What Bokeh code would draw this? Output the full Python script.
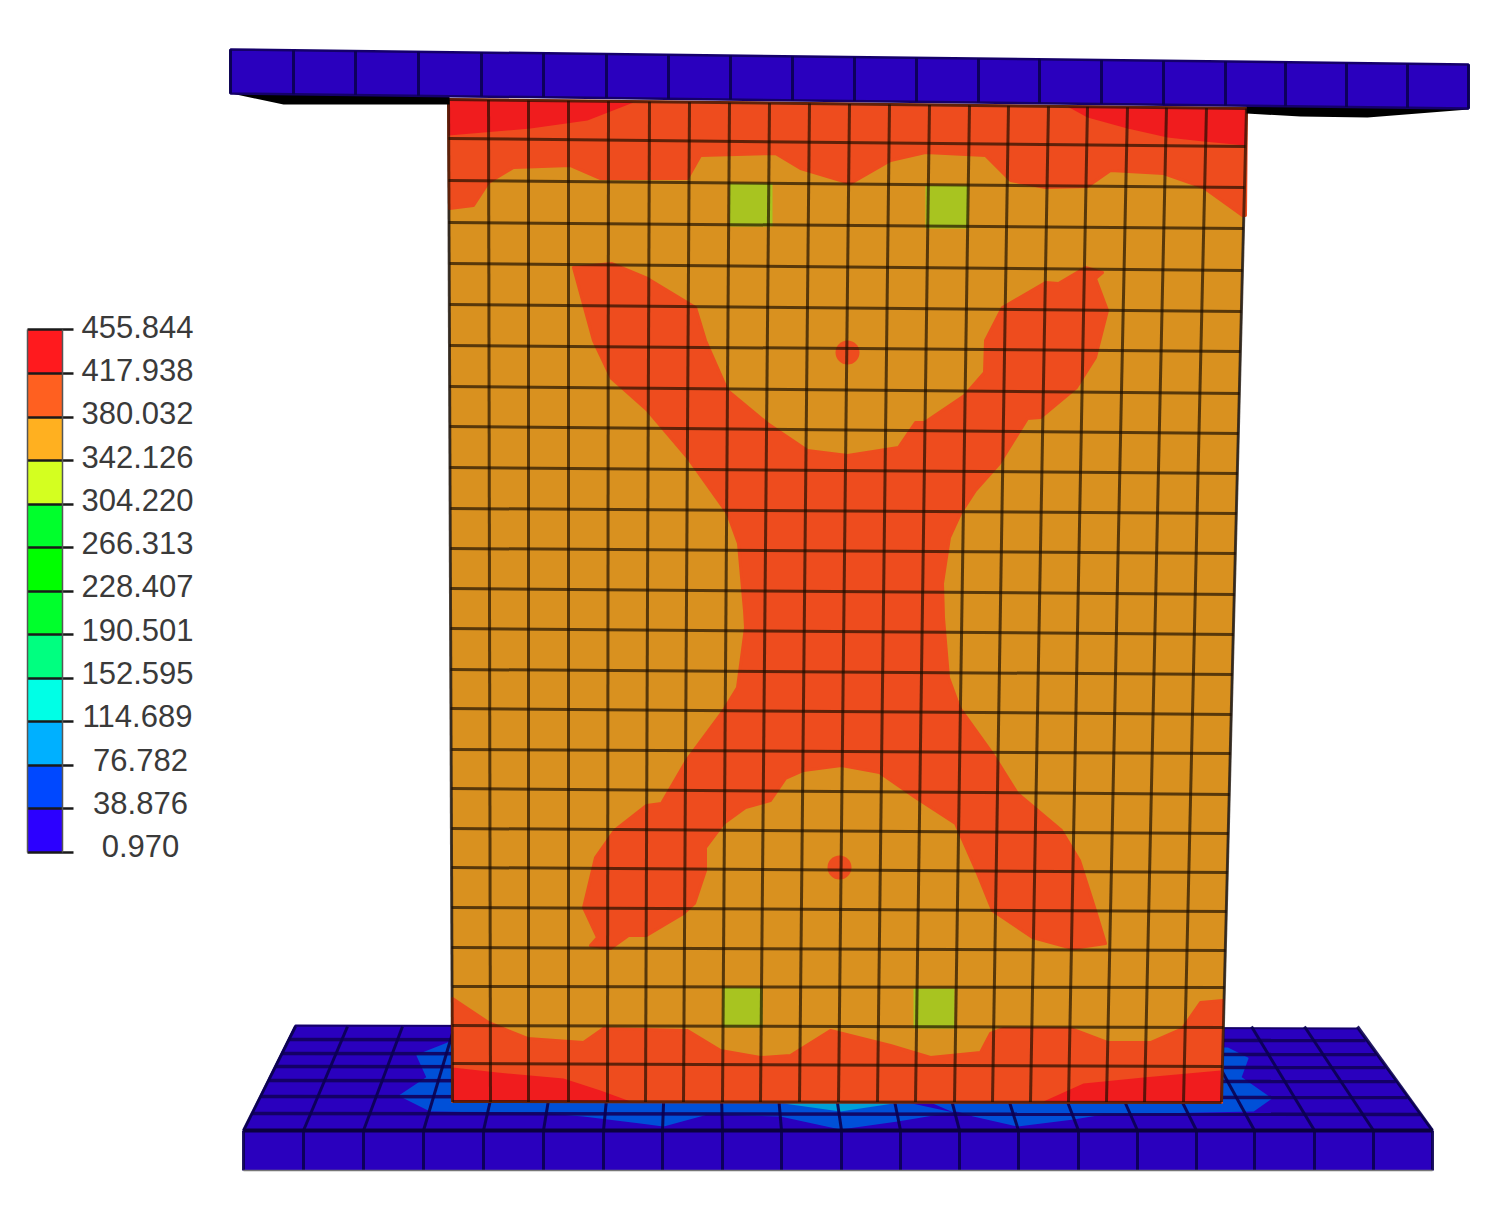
from bokeh.plotting import figure
from bokeh.embed import file_html
from bokeh.resources import INLINE
from bokeh.models import Range1d
from bokeh.core.properties import value

# ---------- legend ----------
legend_labels = ["455.844","417.938","380.032","342.126","304.220","266.313","228.407",
                 "190.501","152.595","114.689","76.782","38.876","0.970"]
legend_ticks = [329,373,417,460,504,547,591,634,678,721,765,808,852]
legend_label_y = [326,369,412,456,499,542,585,629,672,715,759,802,845]
legend_label_x = [137,137,137,137,137,137,137,137,137,137,140,140,140]
legend_colors = ["#FF1A1E","#FF6020","#FFB020","#D4FF20","#00FF2C","#00FF00","#00FF2C",
                 "#00FF80","#00FFE6","#00B0FF","#0048FF","#2C00FF"]

# ---------- colours of the model ----------
plate_color = "#2A00BE"
orange = "#D9911F"
redorange = "#EE4C1E"
red = "#F01C1E"
olive = "#A8C420"
blue = "#0050D8"
sky = "#00A0D8"

# ---------- top plate ----------
top_plate_x = [230,1468,1468,230]
top_plate_y = [49,64,108,93]
top_shadow_l_x = [231,283,449,449]
top_shadow_l_y = [93,104,104,96]
top_shadow_r_x = [1246,1300,1367,1468,1468,1246]
top_shadow_r_y = [113,116,117,109,106,104]
top_plate_lines = [230,293,355,418,481,543,606,668,730,792,854,916,978,1039,1101,1163,1225,1285,1346,1407,1468]

# ---------- bottom plate ----------
base_top_x = [295,1357,1432,243]
base_top_y = [1025,1028,1130,1130]
base_front_x = [243,1432,1432,243]
base_front_y = [1130,1130,1170,1170]
base_front_lines = [243,303,363,423,483,543,603,662,722,781,841,900,959,1018,1078,1137,1196,1254,1314,1373,1432]
base_back_lines = [295,347,402,454,507,560,613,666,719,772,826,879,932,985,1038,1091,1144,1197,1251,1304,1357]
base_row_y = [1039,1053,1066,1080,1096,1113]

blue_x = [450,417,427,400,430,547,583,640,663,707,780,840,897,957,973,1017,1073,1103,1253,1270,1240,1247,1227]
blue_y = [1042,1055,1077,1095,1110,1112,1115,1122,1125,1113,1115,1128,1120,1110,1115,1125,1118,1113,1110,1098,1077,1058,1048]
sky_x = [783,840,893,840]
sky_y = [1103,1111,1103,1101]
wedge_x = [907,953,930]
wedge_y = [1102,1112,1102]

# ---------- column outline and mesh ----------
col_x = [448,1246,1221,452]
col_y = [99,108,1102,1101]
mesh_top_x = [448,488,528,568,608,649,689,729,769,809,849,889,929,969,1008,1048,1087,1127,1166,1206,1246]
mesh_bot_x = [452,490,528,568,607,645,683,722,760,799,838,877,915,954,992,1030,1068,1106,1144,1183,1221]
mesh_left_y = [99,138,180,222,263,304,345,386,426,467,508,548,588,628,669,708,749,788,828,867,907,947,986,1025,1063,1101]
mesh_right_y = [108,146,187,228,270,311,351,393,433,473,513,553,594,634,674,714,753,794,833,872,911,950,987,1027,1066,1102]
mesh_left_x = [448,448,448,448,449,449,449,449,449,449,450,450,450,450,450,450,451,451,451,451,451,451,452,452,452,452]
mesh_right_x = [1246,1245,1244,1243,1242,1241,1240,1239,1238,1237,1236,1235,1234,1233,1232,1231,1230,1229,1228,1227,1226,1225,1224,1223,1222,1221]

# ---------- stress contours ----------
top_band_x = [448,1246,1245,1242,1203,1163,1110,1087,1045,1010,985,925,890,850,800,775,700,687,600,570,513,488,473,449]
top_band_y = [99,108,215,215,187,173,170,186,187,180,155,152,160,183,168,153,155,178,178,165,167,182,205,208]
top_red_l_x = [448,633,587,530,448]
top_red_l_y = [99,102,120,128,135]
top_red_r_x = [1067,1246,1245,1203,1167,1127,1087]
top_red_r_y = [106,108,145,141,137,128,117]
bot_band_x = [452,488,527,583,603,687,720,760,790,830,890,930,980,990,1003,1070,1107,1150,1182,1200,1222,1221,452]
bot_band_y = [998,1022,1038,1042,1028,1030,1050,1057,1055,1030,1045,1057,1052,1033,1028,1028,1042,1042,1028,1002,1000,1102,1101]
bot_red_l_x = [452,497,563,600,630,452]
bot_red_l_y = [1067,1072,1078,1090,1101,1101]
bot_red_r_x = [1043,1083,1143,1220,1221]
bot_red_r_y = [1101,1083,1077,1070,1102]
cross_x = [573,611,647,695,705,727,767,807,847,898,915,924,964,984,985,1002,1045,1058,1085,1102,1095,1107,
           1095,1076,1040,1027,999,975,960,949,942,943,948,959,992,1017,1061,1079,1094,1105,1072,1032,992,977,955,
           915,879,841,803,785,770,745,723,705,705,694,683,646,628,610,590,597,583,595,614,646,661,686,723,737,745,744,
           738,727,687,647,611,593]
cross_y = [267,263,278,307,340,390,423,450,455,447,422,422,395,372,340,307,282,283,267,272,278,310,
           357,387,417,418,463,490,513,537,583,617,677,707,753,793,830,860,907,943,948,937,910,873,823,
           797,772,765,770,778,800,807,823,847,870,903,913,935,935,948,945,937,907,857,830,805,803,760,710,687,627,610,
           543,513,457,410,378,340]
spot_x = [847,839]
spot_y = [352,867]
spot_r = [12,12]
square_left = [729,925,722,913]
square_right = [772,968,762,954]
square_top = [183,185,987,988]
square_bottom = [226,228,1027,1028]

# ---------- figure ----------
p = figure(width=1488, height=1200, x_range=Range1d(0,1488), y_range=Range1d(1200,0),
           output_backend="svg", toolbar_location=None, min_border=0)
p.axis.visible = False
p.grid.visible = False
p.outline_line_color = None
p.background_fill_color = "white"
p.border_fill_color = "white"

# bottom plate
p.patch(base_top_x, base_top_y, fill_color=plate_color, line_color="#15006A", line_width=2)
p.patch(blue_x, blue_y, fill_color=blue, line_color=blue, line_width=2, line_join="round")
p.patch(sky_x, sky_y, fill_color=sky, line_color=None)
p.patch(wedge_x, wedge_y, fill_color=plate_color, line_color=None)

row_left = [base_top_x[0] + (base_top_x[3]-base_top_x[0])*(y-1025)/105 for y in base_row_y]
row_right = [base_top_x[1] + (base_top_x[2]-base_top_x[1])*(y-1028)/102 for y in base_row_y]
p.segment(row_left, base_row_y, row_right, [y+1 for y in base_row_y],
          line_color="#12005C", line_width=3.5, line_alpha=0.9)
p.segment(base_back_lines, [1026]*21, base_front_lines, [1130]*21,
          line_color="#0A0050", line_width=3, line_alpha=0.9)
p.patch(base_front_x, base_front_y, fill_color=plate_color, line_color=None)
p.segment(base_front_lines, [1130]*21, base_front_lines, [1170]*21,
          line_color="#0A0050", line_width=3, line_alpha=0.9)
p.segment([243],[1130],[1432],[1130], line_color="#0A0040", line_width=4)
p.segment([243],[1170],[1432],[1170], line_color="#777777", line_width=1.5)

# column
p.patch(col_x, col_y, fill_color=orange, line_color="#666666", line_width=2)
p.patches([top_band_x, bot_band_x, cross_x], [top_band_y, bot_band_y, cross_y],
          fill_color=redorange, line_color=redorange, line_width=3, line_join="round")
p.patches([top_red_l_x, top_red_r_x, bot_red_l_x, bot_red_r_x],
          [top_red_l_y, top_red_r_y, bot_red_l_y, bot_red_r_y], fill_color=red, line_color=None)
p.circle(spot_x, spot_y, radius=spot_r, fill_color=redorange, line_color=None)
p.quad(left=square_left, right=square_right, top=square_top, bottom=square_bottom,
       fill_color=olive, line_color=None)

# mesh of the column
p.segment(mesh_top_x, [col_y[0] + (col_y[1]-col_y[0])*(x-448)/798 for x in mesh_top_x],
          mesh_bot_x, [1101.5]*21, line_color="#1A0E00", line_width=3, line_alpha=0.68)
p.segment(mesh_left_x, mesh_left_y, mesh_right_x, mesh_right_y,
          line_color="#1A0E00", line_width=3, line_alpha=0.68)

# top plate
p.patch(top_shadow_l_x, top_shadow_l_y, fill_color="black", line_color=None)
p.patch(top_shadow_r_x, top_shadow_r_y, fill_color="black", line_color=None)
p.patch(top_plate_x, top_plate_y, fill_color=plate_color, line_color="#15006A", line_width=2.5)
p.segment(top_plate_lines, [49 + 15*(x-230)/1238 for x in top_plate_lines],
          top_plate_lines, [93 + 15*(x-230)/1238 for x in top_plate_lines],
          line_color="#0A0050", line_width=3, line_alpha=0.9)

# legend
p.quad(left=[27]*12, right=[62]*12, top=legend_ticks[:-1], bottom=legend_ticks[1:],
       fill_color=legend_colors, line_color=None)
p.segment([27]*13, legend_ticks, [73]*13, legend_ticks, line_color="#1A1A1A", line_width=2.5)
p.segment([27,62],[329,329],[27,62],[852,852], line_color="#555555", line_width=1.5)
p.text(legend_label_x, legend_label_y, text=legend_labels,
       text_font=value("Liberation Sans"), text_font_size="31px",
       text_color="#3A3A3A", text_align="center", text_baseline="middle")

open("out.html", "w").write(file_html(p, INLINE))
